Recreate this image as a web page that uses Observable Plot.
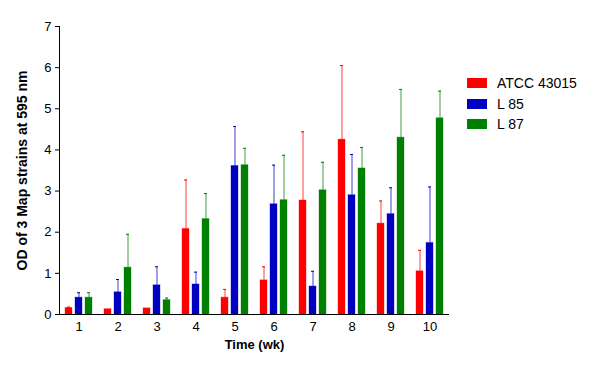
<!DOCTYPE html>
<html><head><meta charset="utf-8">
<script src="https://cdn.jsdelivr.net/npm/d3@7"></script>
<script src="https://cdn.jsdelivr.net/npm/@observablehq/plot@0.6"></script>
<style>
body{margin:0;background:#fff;}
#wrap{position:relative;width:593px;height:370px;font-family:"Liberation Sans",Arial,sans-serif;}
#legend{position:absolute;left:467px;top:73px;}
.row{display:flex;align-items:center;height:20.5px;font-size:14px;color:#000;}
.sw{width:20px;height:10px;margin-right:10px;}
svg [aria-label$="axis label"] text{font-weight:bold;}
svg [aria-label="y-axis label"] text{font-size:14px;}
</style>
</head><body>
<div id="wrap"></div>
<script>
const weeks = [1, 2, 3, 4, 5, 6, 7, 8, 9, 10];
const series = ["ATCC 43015", "L 85", "L 87"];
const colors = ["#ff0000", "#0000c0", "#008000"];
const atcc43015 = [0.16, 0.13, 0.15, 2.08, 0.41, 0.83, 2.77, 4.25, 2.21, 1.05];
const atcc43015Sd = [0.02, 0, 0, 1.19, 0.20, 0.33, 1.67, 1.80, 0.55, 0.51];
const l85 = [0.41, 0.54, 0.71, 0.73, 3.61, 2.68, 0.68, 2.90, 2.44, 1.74];
const l85Sd = [0.12, 0.31, 0.45, 0.30, 0.96, 0.95, 0.37, 0.99, 0.64, 1.36];
const l87 = [0.41, 1.14, 0.35, 2.32, 3.63, 2.78, 3.02, 3.55, 4.30, 4.77];
const l87Sd = [0.12, 0.81, 0.05, 0.62, 0.41, 1.09, 0.68, 0.51, 1.17, 0.66];
const yTicks = [0, 1, 2, 3, 4, 5, 6, 7];

const values = [atcc43015, l85, l87];
const sds = [atcc43015Sd, l85Sd, l87Sd];
const rows = [];
weeks.forEach((w, i) => series.forEach((s, j) => rows.push({week: w, series: s, value: values[j][i], sd: sds[j][i]})));
const errRows = rows.filter(d => d.sd > 0);

const chart = Plot.plot({
  width: 593, height: 370,
  marginLeft: 58, marginRight: 143, marginTop: 26, marginBottom: 56,
  style: {fontFamily: "'Liberation Sans', Arial, sans-serif", fontSize: "13px", color: "#000", background: "#fff"},
  fx: {domain: weeks, padding: 0},
  x: {domain: series, paddingInner: 0.27, paddingOuter: 0.42, axis: null},
  y: {domain: [0, 7]},
  color: {domain: series, range: colors},
  marks: [
    Plot.axisY({ticks: yTicks, tickFormat: d3.format("d"), tickSize: 4, tickPadding: 4, label: "OD of 3 Map strains at 595 nm", labelArrow: "none", labelAnchor: "center", labelOffset: 42}),
    Plot.axisFx({anchor: "bottom", tickSize: 0, tickPadding: 7, label: "Time (wk)", labelArrow: "none", labelAnchor: "center", labelOffset: 34}),
    Plot.barY(rows, {fx: "week", x: "series", y: "value", fill: "series", stroke: "series", strokeOpacity: 0.35}),
    Plot.ruleX(errRows, {fx: "week", x: "series", y1: "value", y2: d => d.value + d.sd, stroke: "series", strokeOpacity: 0.75}),
    Plot.tickY(errRows, {fx: "week", x: "series", y: d => d.value + d.sd, stroke: "series", insetLeft: 2, insetRight: 2}),
    Plot.ruleY([0], {stroke: "#000"}),
    Plot.frame({anchor: "left", facetAnchor: "left", stroke: "#000"})
  ]
});
const wrap = document.getElementById("wrap");
wrap.appendChild(chart);
const legend = document.createElement("div");
legend.id = "legend";
series.forEach((s, j) => {
  const r = document.createElement("div");
  r.className = "row";
  const sw = document.createElement("div");
  sw.className = "sw";
  sw.style.background = colors[j];
  const t = document.createElement("span");
  t.textContent = s;
  r.appendChild(sw); r.appendChild(t);
  legend.appendChild(r);
});
wrap.appendChild(legend);
</script>
</body></html>
